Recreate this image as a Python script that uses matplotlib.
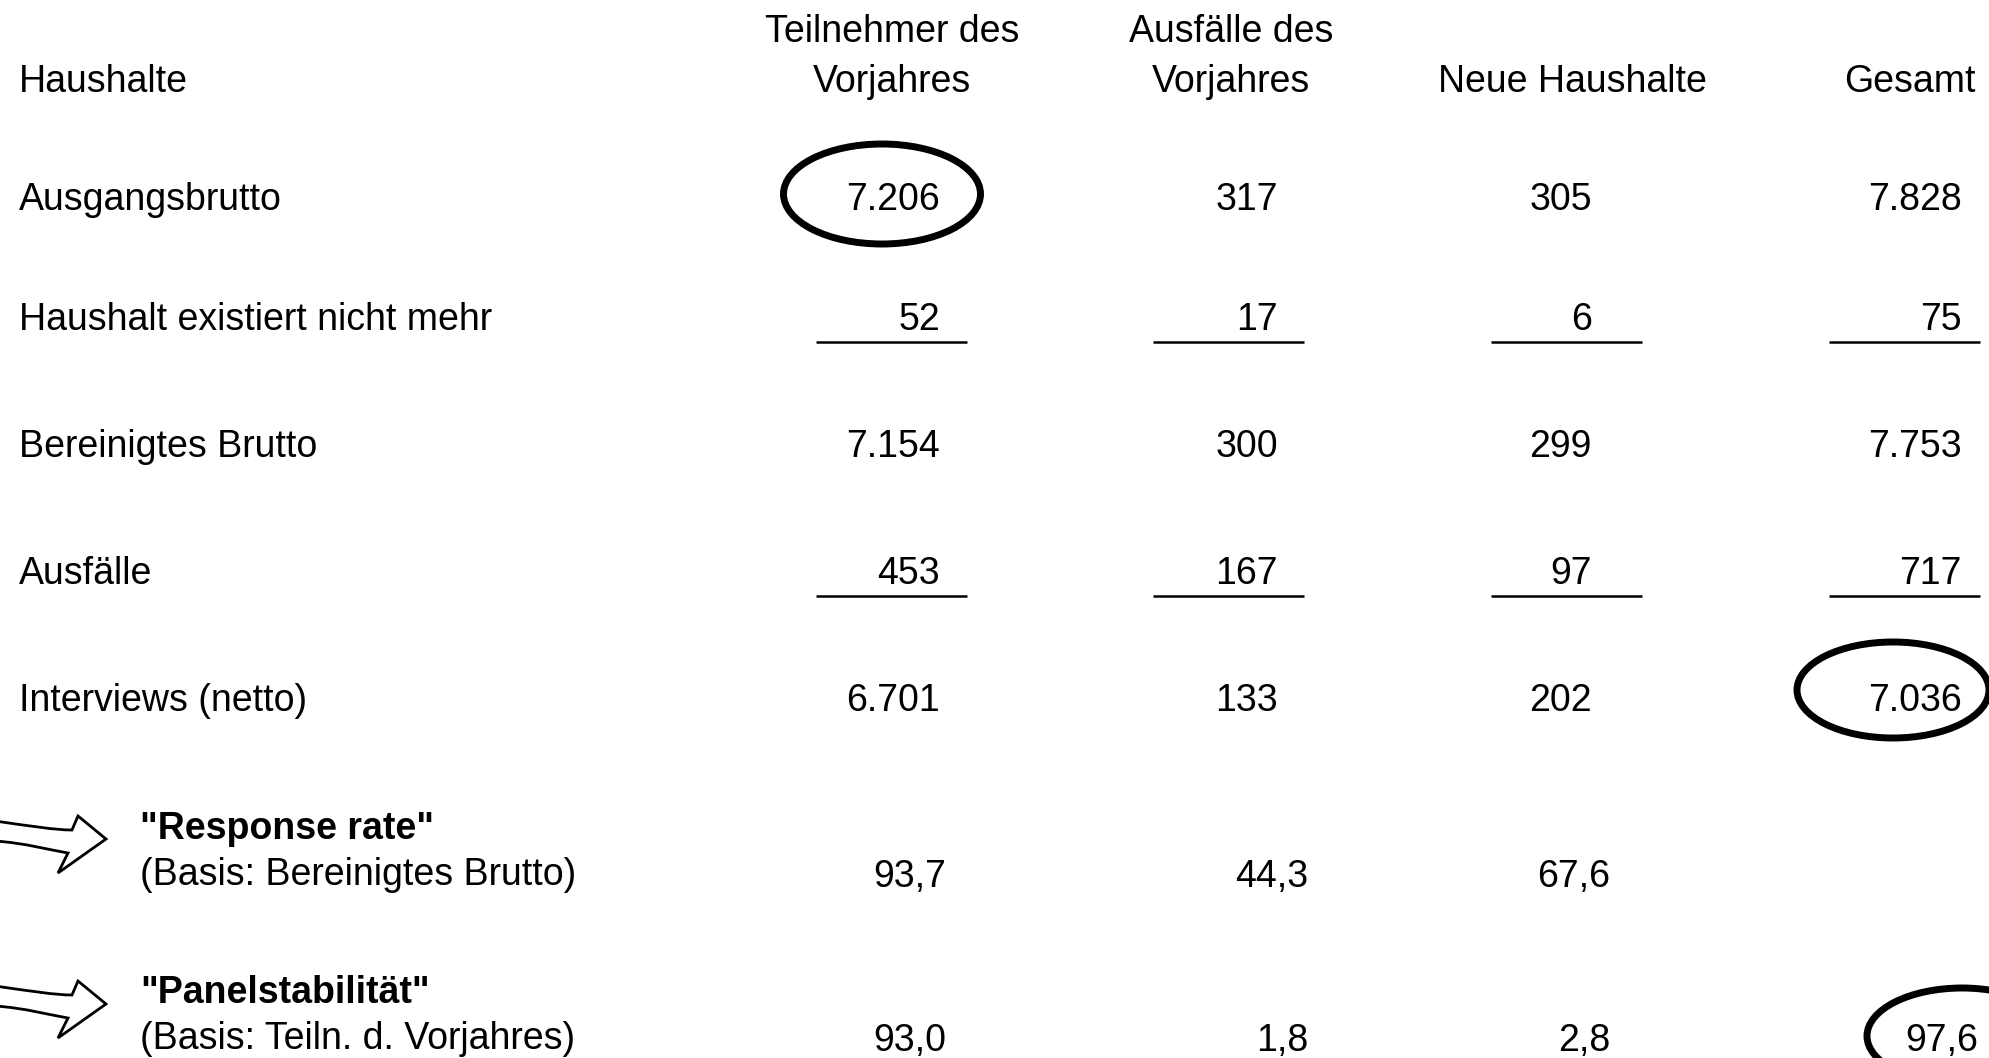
import matplotlib.pyplot as plt
from matplotlib.patches import Ellipse, PathPatch
from matplotlib.path import Path

# table contents
col_headers = [("Teilnehmer des", "Vorjahres"), ("Ausfälle des", "Vorjahres"),
               ("", "Neue Haushalte"), ("", "Gesamt")]
row_labels = ["Ausgangsbrutto", "Haushalt existiert nicht mehr",
              "Bereinigtes Brutto", "Ausfälle", "Interviews (netto)"]
teilnehmer = [7206, 52, 7154, 453, 6701]
ausfaelle_vj = [317, 17, 300, 167, 133]
neue = [305, 6, 299, 97, 202]
gesamt = [7828, 75, 7753, 717, 7036]
response_rate = [93.7, 44.3, 67.6, None]
panelstab = [93.0, 1.8, 2.8, 97.6]

# layout in pixels (figure is 1989 x 1058)
W, H = 1989, 1058
FS = 27
label_x = 19
head_cx = [892, 1231, 1572, 1910]
num_rx = [940, 1278, 1592, 1962]
pct_rx = [946, 1308, 1610, 1978]
line_x0 = [816, 1153, 1491, 1829]
line_w = 151
row_y = [197, 317, 444, 571, 698]
underlined = [1, 3]
cap = 13  # half cap height in px, to place baselines

fig = plt.figure(figsize=(W / 100, H / 100), dpi=100)
ax = fig.add_axes([0, 0, 1, 1])
ax.set_xlim(0, W)
ax.set_ylim(H, 0)
ax.axis('off')

plt.rcParams['font.family'] = ['Liberation Sans', 'DejaVu Sans']


def txt(x, y, s, ha='left', **kw):
    ax.text(x, y + cap, s, ha=ha, va='baseline', fontsize=FS, color='black', **kw)


def de_int(v):
    return f"{v:,}".replace(",", ".")


def de_pct(v):
    return f"{v:.1f}".replace(".", ",")


# header
txt(label_x, 79, "Haushalte")
for cx, (l1, l2) in zip(head_cx, col_headers):
    if l1:
        txt(cx, 29, l1, ha='center')
    txt(cx, 79, l2, ha='center')

# body rows
columns = [teilnehmer, ausfaelle_vj, neue, gesamt]
for i, lab in enumerate(row_labels):
    y = row_y[i]
    txt(label_x, y, lab)
    for j, col in enumerate(columns):
        txt(num_rx[j], y, de_int(col[i]), ha='right')
        if i in underlined:
            ax.plot([line_x0[j], line_x0[j] + line_w], [y + 25, y + 25],
                    color='black', lw=1.8, solid_capstyle='butt')

# rate rows: (title, basis, values, title y, basis y)
rate_rows = [("\"Response rate\"", "(Basis: Bereinigtes Brutto)", response_rate, 826, 872),
             ("\"Panelstabilität\"", "(Basis: Teiln. d. Vorjahres)", panelstab, 990, 1036)]
for title, basis, vals, y1, y2 in rate_rows:
    txt(140, y1, title, fontweight='bold')
    txt(140, y2, basis)
    for j, v in enumerate(vals):
        if v is not None:
            txt(pct_rx[j], y2 + 2, de_pct(v), ha='right')


# hollow curved arrows on the left
def arrow(ty):
    verts = [
        (-5, ty - 18),
        (30, ty - 13), (55, ty - 9), (72, ty - 9),
        (78, ty - 23),
        (106, ty),
        (58, ty + 34),
        (68, ty + 14),
        (50, ty + 11), (25, ty + 4), (-5, ty + 2),
        (-5, ty - 18),
    ]
    codes = [Path.MOVETO,
             Path.CURVE4, Path.CURVE4, Path.CURVE4,
             Path.LINETO, Path.LINETO, Path.LINETO, Path.LINETO,
             Path.CURVE4, Path.CURVE4, Path.CURVE4,
             Path.CLOSEPOLY]
    ax.add_patch(PathPatch(Path(verts, codes), fc='white', ec='black', lw=2,
                           joinstyle='miter'))


arrow(839)
arrow(1004)

# hand-drawn style circles around key figures
for (cx, cy, w, h) in [(882, 194, 197, 100), (1893, 690, 192, 96), (1962, 1036, 190, 96)]:
    ax.add_patch(Ellipse((cx, cy), w, h, fill=False, ec='black', lw=5))

fig.savefig("out.png", dpi=100, facecolor='white')
